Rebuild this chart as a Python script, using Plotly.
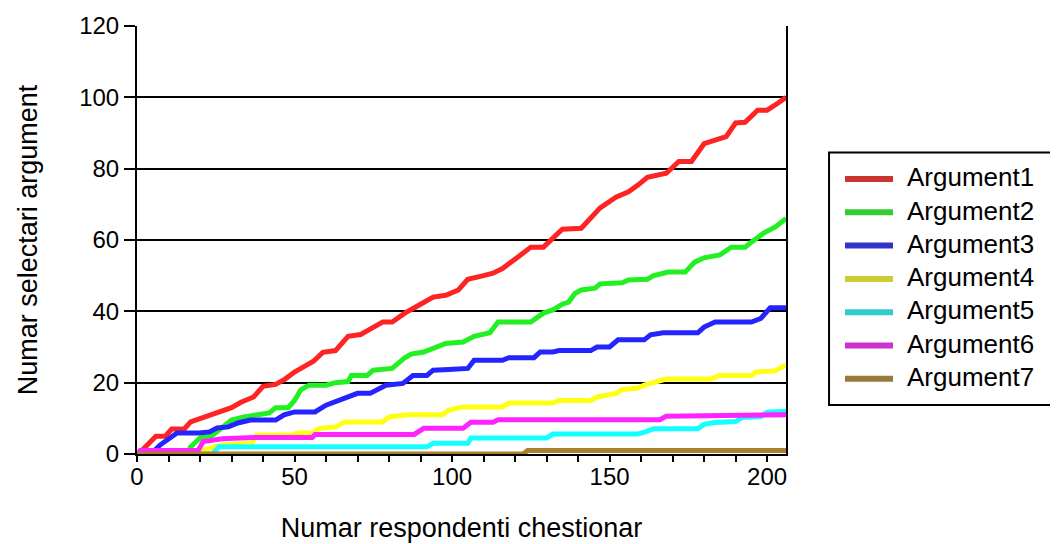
import plotly.graph_objects as go

# ---- data (breakpoints) ----
names = ["Argument1", "Argument2", "Argument3", "Argument4", "Argument5", "Argument6", "Argument7"]

a1_x = [0, 1, 6, 9, 11, 15, 17, 20, 24, 26, 30, 33, 37, 40, 44, 47, 50, 53, 56, 59, 63, 67, 71, 74, 78, 81, 85, 90, 94, 98, 102, 105, 107, 110, 113, 116, 120.6, 125, 129, 132, 135, 141, 145, 147, 152, 156, 159, 162, 168, 172, 176, 180, 183.5, 187, 190, 193, 197, 200, 203.5, 206]
a1_y = [0, 0.5, 5, 5, 7, 7, 9, 10, 11, 12, 13, 14.5, 16, 19, 19.5, 21, 23, 24.5, 26, 28.5, 29, 33, 33.5, 35, 37, 37, 39.5, 42, 44, 44.5, 46, 49, 49.3, 50, 50.7, 52, 55, 58, 58, 60.5, 63, 63.3, 67, 69, 72, 73.5, 75.4, 77.6, 78.7, 82, 82, 87, 88, 89, 92.8, 93, 96.4, 96.4, 98.4, 100]

a2_x = [0, 16, 17, 20, 24, 27, 30, 34, 38, 42, 44, 48, 50, 52, 54.6, 60, 63, 67, 68, 73, 75, 81, 85, 87, 91, 95, 98, 103.5, 107, 112, 114.6, 125, 127, 129, 132, 135, 137, 139, 141, 145.4, 147, 154, 156, 162, 164, 168.6, 174, 177, 180, 185, 188.6, 193, 195, 199, 202.5, 206]
a2_y = [0, 0, 2, 4.5, 5.3, 7.6, 9.5, 10.4, 11, 11.5, 13, 13, 15, 18, 19.3, 19.3, 20, 20.3, 22, 22, 23.5, 24, 27, 28, 28.6, 30, 31, 31.4, 33, 34, 37, 37, 38.4, 39.5, 40.4, 42, 42.6, 45, 46, 46.5, 47.7, 48, 48.8, 49, 50, 51, 51, 53.8, 55, 55.8, 58, 58, 59.4, 62, 63.6, 66]

a3_x = [0, 5, 7.3, 10, 12.7, 19.7, 23, 25.4, 29, 32, 36, 44, 46.7, 50, 56.5, 60, 62, 66, 70, 74, 77, 79, 84.4, 87.6, 92, 94, 99, 105, 107, 116, 118, 126, 128, 132, 134, 144, 146, 150, 152.7, 161, 163, 167, 178, 180, 183.5, 195, 198, 201, 206]
a3_y = [0, 0.5, 2.5, 4, 5.9, 5.9, 6.2, 7.3, 7.6, 8.7, 9.5, 9.5, 11, 11.8, 11.8, 13.7, 14.3, 15.7, 17, 17, 18.5, 19.3, 19.8, 22, 22, 23.5, 23.7, 24, 26.3, 26.3, 27, 27, 28.6, 28.6, 29, 29, 30, 30, 32, 32, 33.4, 34, 34, 35.6, 37, 37, 38, 41, 41]

a4_x = [0, 20, 20.6, 24.4, 27, 31, 36.5, 38, 49, 51, 55.6, 58, 63, 66, 78, 80, 86, 97, 99, 103.5, 116, 118, 132, 134, 144, 146, 152, 154, 159, 161, 166, 168, 182, 185, 195, 196.5, 202.5, 206]
a4_y = [0, 0, 1, 2, 2.5, 2.8, 3, 5.3, 5.3, 5.9, 5.9, 7.2, 7.6, 9, 9, 10.4, 11, 11, 12.3, 13.2, 13.2, 14.3, 14.3, 15, 15, 16, 17, 18, 18.5, 19.3, 20.5, 21, 21, 22, 22, 23, 23.3, 25]

a5_x = [0, 24, 26, 92, 94, 105, 106, 130, 132, 159, 161.6, 164, 178, 180, 183.5, 190, 192, 198, 200, 206]
a5_y = [0, 0, 2, 2, 3, 3, 4.5, 4.5, 5.6, 5.6, 6.3, 7.1, 7.1, 8.3, 8.8, 9.1, 10.2, 10.5, 11.7, 12]

a6_x = [0, 1, 19.4, 21, 27, 37, 55.6, 56.5, 88, 91, 103.5, 106, 113, 114.6, 166, 168, 206]
a6_y = [0, 1, 1, 3.5, 4.3, 4.6, 4.6, 5.5, 5.5, 7.2, 7.2, 8.9, 8.9, 9.6, 9.6, 10.6, 11]

a7_x = [0, 122.6, 124, 206]
a7_y = [0, 0, 1, 1]

xs = [a1_x, a2_x, a3_x, a4_x, a5_x, a6_x, a7_x]
ys = [a1_y, a2_y, a3_y, a4_y, a5_y, a6_y, a7_y]

x_ticks = [0, 50, 100, 150, 200]
y_ticks = [0, 20, 40, 60, 80, 100, 120]

# ---- styles ----
line_colors = ["#ff2424", "#22f022", "#2424ff", "#ffff14", "#14ffff", "#ff24ff", "#a8802e"]
legend_colors = ["#cc3333", "#33cc33", "#3333cc", "#cccc33", "#33cccc", "#cc33cc", "#997a3d"]
FONT = "Liberation Sans, Arial, sans-serif"

# legend box geometry (paper coordinates relative to plot area)
LEG_X0, LEG_X1 = 1.0663, 1.4176
LEG_Y0, LEG_Y1 = 0.1145, 0.7045
SW_X0, SW_X1 = 1.0909, 1.1649
TXT_X = 1.1834
ITEM_Y0 = 0.6425     # first item centre
ITEM_DY = 0.0778     # spacing between items

fig = go.Figure()
for i, n in enumerate(names):
    fig.add_trace(go.Scatter(
        x=xs[i], y=ys[i], mode="lines", name=n, showlegend=False,
        line=dict(color=line_colors[i], width=5), hoverinfo="skip"))

shapes = [dict(type="rect", xref="paper", yref="paper",
               x0=LEG_X0, x1=LEG_X1, y0=LEG_Y0, y1=LEG_Y1,
               line=dict(color="black", width=2), fillcolor="white", layer="above")]
annotations = []
for i, n in enumerate(names):
    yc = ITEM_Y0 - i * ITEM_DY
    shapes.append(dict(type="line", xref="paper", yref="paper",
                       x0=SW_X0, x1=SW_X1, y0=yc, y1=yc,
                       line=dict(color=legend_colors[i], width=6), layer="above"))
    annotations.append(dict(xref="paper", yref="paper", x=TXT_X, y=yc + 0.004,
                            text=n, showarrow=False, xanchor="left", yanchor="middle",
                            font=dict(size=26, family=FONT, color="black")))

fig.update_layout(
    width=1058, height=544,
    margin=dict(l=129, r=280, t=18, b=98, autoexpand=False),
    plot_bgcolor="white", paper_bgcolor="white",
    font=dict(family=FONT, size=24, color="black"),
    showlegend=False,
    shapes=shapes, annotations=annotations,
)
fig.update_xaxes(
    range=[0, 206], tickvals=x_ticks, ticktext=[str(v) for v in x_ticks],
    showgrid=False, zeroline=False, automargin=False,
    showline=True, linecolor="black", linewidth=2,
    ticks="outside", ticklen=6, tickwidth=2, tickcolor="black",
    ticklabelstandoff=-6,
    minor=dict(dtick=10, tick0=0, ticks="outside", ticklen=6, tickwidth=2, tickcolor="black"),
    tickfont=dict(size=24),
    title=dict(text="Numar respondenti chestionar", font=dict(size=27), standoff=29),
)
fig.update_yaxes(
    range=[0, 120], tickvals=y_ticks, ticktext=[str(v) for v in y_ticks],
    showgrid=True, gridcolor="black", gridwidth=2, zeroline=False, automargin=False,
    showline=True, linecolor="black", linewidth=2, mirror=True,
    ticks="outside", ticklen=11, tickwidth=2, tickcolor="black",
    tickfont=dict(size=24),
    title=dict(text="Numar selectari argument", font=dict(size=27), standoff=34),
)

fig.write_html("out.html")
